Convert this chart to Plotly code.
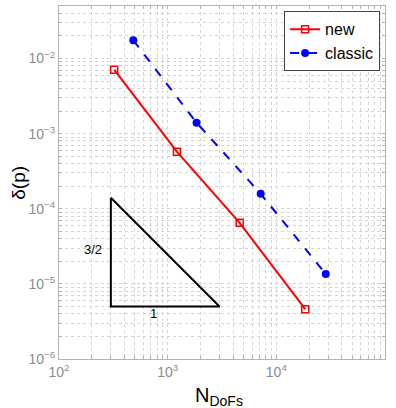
import plotly.graph_objects as go
import math

new_x = [322, 1216, 4600, 18450]
new_y = [7.1e-3, 5.75e-4, 6.5e-5, 4.6e-6]
classic_x = [483, 1845, 7180, 28500]
classic_y = [1.75e-2, 1.40e-3, 1.58e-4, 1.35e-5]
tri_x = [300, 300, 3000, 300]
tri_y = [1.4e-4, 5e-6, 5e-6, 1.4e-4]

x_decades = [2, 3, 4, 5]
y_decades = [-6, -5, -4, -3, -2, -1]


def log_ticks(decades, lo, hi):
    vals, texts = [], []
    for d in decades:
        for m in range(1, 10):
            v = m * 10 ** d
            if lo * 0.999 <= v <= hi * 1.001:
                vals.append(v)
                if m == 1:
                    s = str(d).replace("-", "−")
                    texts.append("10<sup>%s</sup>" % s)
                else:
                    texts.append("")
    return vals, texts


x_vals, x_text = log_ticks(x_decades, 1e2, 1e5)
y_vals, y_text = log_ticks(y_decades, 1e-6, 0.05)

fig = go.Figure()
fig.add_trace(go.Scatter(x=tri_x, y=tri_y, mode="lines", line=dict(color="black", width=2),
                         showlegend=False, hoverinfo="skip"))
fig.add_trace(go.Scatter(x=new_x, y=new_y, mode="lines+markers", name="new",
                         line=dict(color="#ff0000", width=2),
                         marker=dict(symbol="square-open", size=7, color="#ff0000", line=dict(width=1.5))))
fig.add_trace(go.Scatter(x=classic_x, y=classic_y, mode="lines+markers", name="classic",
                         line=dict(color="#0000ff", width=2, dash="dash"),
                         marker=dict(symbol="circle", size=8, color="#0000ff")))

fig.add_annotation(x=math.log10(207), y=math.log10(2.9e-5), text="3/2", showarrow=False,
                   font=dict(size=13, color="black", family="Liberation Sans"))
fig.add_annotation(x=math.log10(735), y=math.log10(4e-6), text="1", showarrow=False,
                   font=dict(size=13, color="black", family="Liberation Sans"))
fig.add_annotation(xref="paper", yref="paper", x=0.49, y=-0.065, xanchor="center", yanchor="top",
                   text="N<sub>DoFs</sub>", showarrow=False,
                   font=dict(size=20, color="black", family="Liberation Sans"))
fig.add_annotation(xref="paper", yref="paper", x=-0.125, y=0.5, xanchor="center", yanchor="middle",
                   text="δ(p)", textangle=-90, showarrow=False,
                   font=dict(size=19, color="black", family="Liberation Sans"))

axis_common = dict(
    type="log", showline=True, linecolor="#b3b3b3", linewidth=1, mirror="ticks",
    ticks="inside", ticklen=3, tickcolor="#b3b3b3", tickmode="array",
    showgrid=True, gridcolor="#d5d5d5", griddash="dot", gridwidth=1,
    zeroline=False, automargin=False,
    tickfont=dict(size=14, color="#8c8c8c", family="Liberation Sans"),
)

fig.update_xaxes(range=[2, 5], tickvals=x_vals, ticktext=x_text, **axis_common)
fig.update_yaxes(range=[-6, math.log10(0.05)], tickvals=y_vals, ticktext=y_text, **axis_common)

fig.update_layout(
    width=396, height=408,
    margin=dict(l=59, r=11, t=6, b=49),
    paper_bgcolor="white", plot_bgcolor="white",
    legend=dict(x=0.985, y=0.985, xanchor="right", yanchor="top",
                bordercolor="#444444", borderwidth=1, bgcolor="white",
                font=dict(size=16, color="black", family="Liberation Sans"),
                tracegroupgap=0, itemwidth=30),
)

fig.write_html("out.html", config={"displayModeBar": False},
               post_script="document.body.style.margin='0';document.body.style.overflow='hidden';")
